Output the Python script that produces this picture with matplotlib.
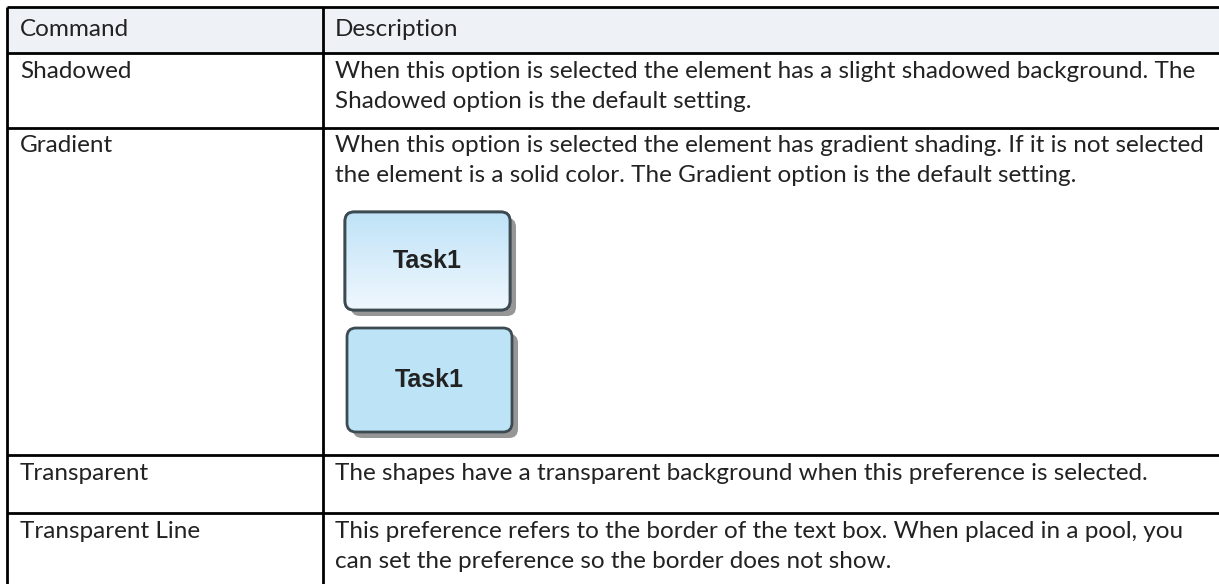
import numpy as np
import matplotlib.pyplot as plt
from matplotlib.patches import FancyBboxPatch

# table content
commands = ["Shadowed", "Gradient", "Transparent", "Transparent Line"]
descriptions = [
    ["When this option is selected the element has a slight shadowed background. The",
     "Shadowed option is the default setting."],
    ["When this option is selected the element has gradient shading. If it is not selected",
     "the element is a solid color. The Gradient option is the default setting."],
    ["The shapes have a transparent background when this preference is selected."],
    ["This preference refers to the border of the text box. When placed in a pool, you",
     "can set the preference so the border does not show."],
]
headers = ["Command", "Description"]
task_label = "Task1"

W, H = 1219, 584
row_edges = [7, 53, 128, 455, 513]
col_left, col_mid = 7, 323
line_gap = 30

fig = plt.figure(figsize=(W / 100, H / 100), dpi=100)
ax = fig.add_axes([0, 0, 1, 1])
ax.set_xlim(0, W)
ax.set_ylim(H, 0)
ax.axis("off")

font = "Lato"
fs = 17.5
txt_col = "#222222"

# header background
ax.add_patch(plt.Rectangle((col_left, row_edges[0]), W - col_left,
                           row_edges[1] - row_edges[0], color="#eef2f6", zorder=0))

# grid lines (table runs past the right and bottom edge)
for y in row_edges:
    ax.plot([col_left, W + 5], [y, y], color="black", lw=2, solid_capstyle="butt")
for x in [col_left, col_mid]:
    ax.plot([x, x], [row_edges[0], H + 5], color="black", lw=2, solid_capstyle="butt")

# header text
ax.text(col_left + 13, row_edges[0] + 22, headers[0], family=font, fontsize=fs,
        color=txt_col, va="center")
ax.text(col_mid + 12, row_edges[0] + 22, headers[1], family=font, fontsize=fs,
        color=txt_col, va="center")

# body rows
for i, (cmd, desc) in enumerate(zip(commands, descriptions)):
    top = row_edges[i + 1]
    ax.text(col_left + 13, top + 18, cmd, family=font, fontsize=fs, color=txt_col, va="center")
    for j, line in enumerate(desc):
        ax.text(col_mid + 12, top + 18 + j * line_gap, line, family=font, fontsize=fs,
                color=txt_col, va="center")


def task_box(x0, y0, w, h, gradient):
    # drop shadow
    sh = FancyBboxPatch((x0 + 6, y0 + 6), w, h, boxstyle="round,pad=0,rounding_size=9",
                        fc="#6a6a6a", ec="none", alpha=0.7, zorder=2)
    ax.add_patch(sh)
    box = FancyBboxPatch((x0, y0), w, h, boxstyle="round,pad=0,rounding_size=9",
                         fc="#bde3f7", ec="#3c4a52", lw=2, zorder=4)
    ax.add_patch(box)
    if gradient:
        top_c = np.array([0.75, 0.89, 0.97])
        bot_c = np.array([0.94, 0.97, 0.995])
        t = np.linspace(0, 1, 100)[:, None, None]
        img = top_c * (1 - t) + bot_c * t
        im = ax.imshow(img, extent=(x0, x0 + w, y0 + h, y0), aspect="auto", zorder=4.5)
        im.set_clip_path(box)
        edge = FancyBboxPatch((x0, y0), w, h, boxstyle="round,pad=0,rounding_size=9",
                              fc="none", ec="#3c4a52", lw=2, zorder=5)
        ax.add_patch(edge)
    ax.text(x0 + w / 2, y0 + h / 2, task_label, family="Liberation Sans", weight="bold",
            fontsize=18, color="#222222", ha="center", va="center", zorder=6)


task_box(345, 212, 165, 98, True)
task_box(347, 328, 165, 104, False)

ax.set_xlim(0, W)
ax.set_ylim(H, 0)
fig.savefig("out.png", dpi=100)
